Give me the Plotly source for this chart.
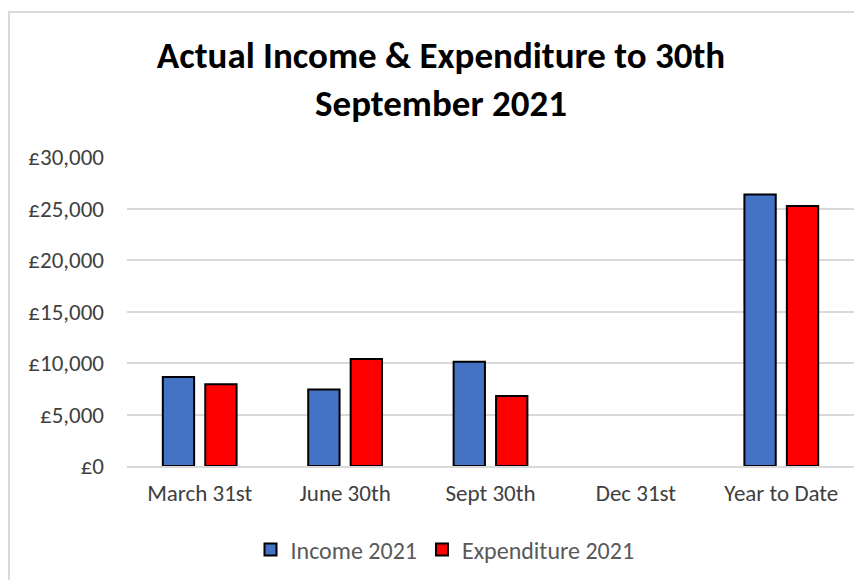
import plotly.graph_objects as go

categories = ["March 31st", "June 30th", "Sept 30th", "Dec 31st", "Year to Date"]
income_2021 = [8650, 7420, 10130, None, 26350]
expenditure_2021 = [7930, 10390, 6800, None, 25250]
y_tickvals = [0, 5000, 10000, 15000, 20000, 25000, 30000]
y_ticktext = ["£0", "£5,000", "£10,000", "£15,000", "£20,000", "£25,000", "£30,000"]

FONT = "Calibri, Carlito, Lato, sans-serif"

# figure sits 8px in from the window edge (default body margin)
W, H = 854, 572
L, R, T, B = 119, 8, 149, 114
PW, PH = W - L - R, H - T - B

fig = go.Figure()
fig.add_trace(go.Bar(
    x=categories, y=income_2021, name="Income 2021",
    marker=dict(color="#4472C4", line=dict(color="#000000", width=2)),
))
fig.add_trace(go.Bar(
    x=categories, y=expenditure_2021, name="Expenditure 2021",
    marker=dict(color="#FF0000", line=dict(color="#000000", width=2)),
))

fig.update_layout(
    width=W, height=H,
    paper_bgcolor="white", plot_bgcolor="white",
    margin=dict(l=L, r=R, t=T, b=B, autoexpand=False),
    barmode="group", bargap=0.416, bargroupgap=0.262,
    font=dict(family=FONT, color="#595959", size=23),
    title=dict(
        text="<b>Actual Income &amp; Expenditure to 30th<br>September 2021</b>",
        x=(441 - 8) / W, xanchor="center",
        yref="container", y=1 - (68 - 8) / H, yanchor="middle",
        font=dict(family=FONT, size=37, color="#000000"),
    ),
    showlegend=True,
    legend=dict(
        orientation="h", xref="paper", x=(445 - 8 - L) / PW, xanchor="center",
        yref="container", y=1 - (550 - 8) / H, yanchor="middle",
        font=dict(family=FONT, size=24, color="#595959"),
        traceorder="normal",
    ),
    xaxis=dict(
        showgrid=False, showline=True, linecolor="#d9d9d9", linewidth=1.5,
        ticks="", tickfont=dict(size=23, color="#404040"), ticklabelstandoff=6,
    ),
    yaxis=dict(
        range=[0, 30000], tickvals=y_tickvals, ticktext=y_ticktext,
        showgrid=True, gridcolor="#d9d9d9", gridwidth=1.5,
        zeroline=False, showline=False, ticks="",
        tickfont=dict(size=23, color="#404040"), ticklabelstandoff=22,
    ),
    shapes=[dict(
        type="rect", xref="paper", yref="paper",
        x0=(1 - L) / PW, x1=(W + 10 - L) / PW,
        y0=-(B + 10) / PH, y1=(H - B - 4) / PH,
        line=dict(color="#d9d9d9", width=2), fillcolor="rgba(0,0,0,0)", layer="below",
    )],
)

fig.write_html("out.html")
